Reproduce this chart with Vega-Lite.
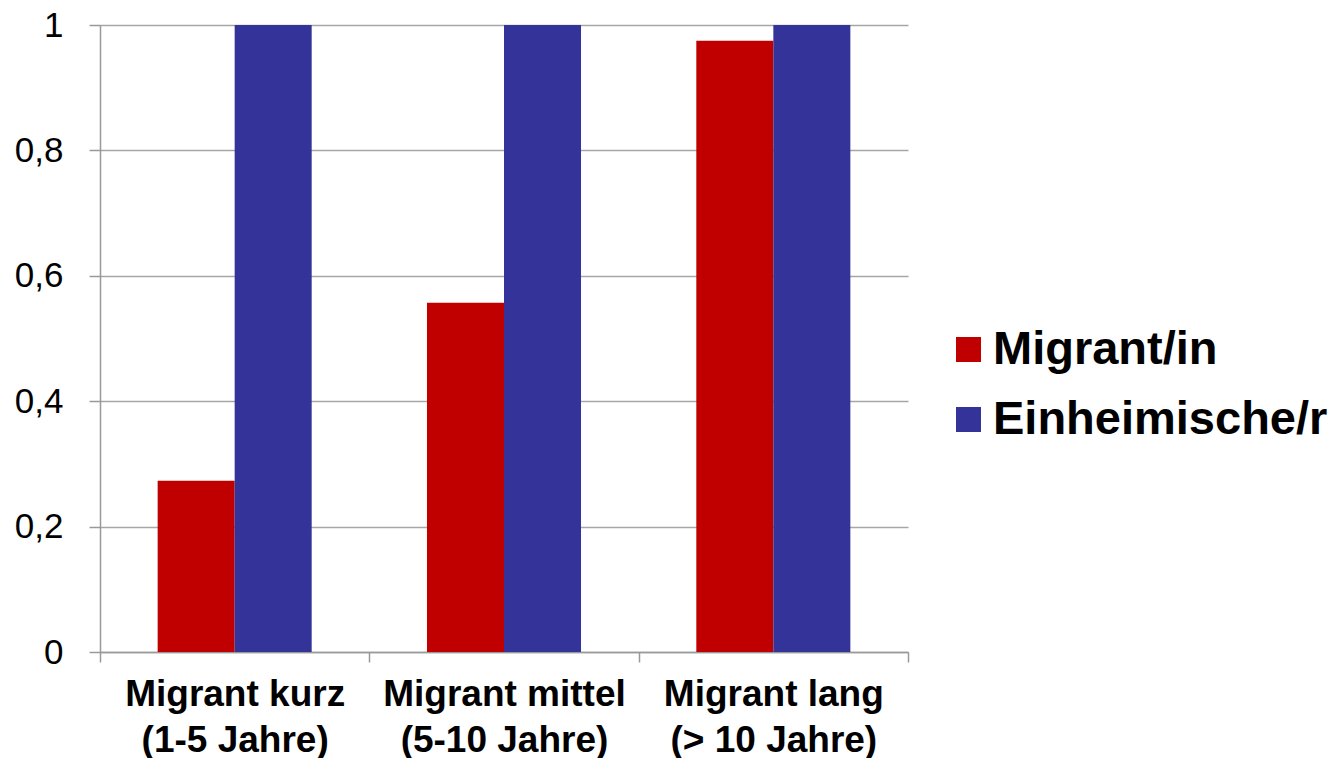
{
  "$schema": "https://vega.github.io/schema/vega-lite/v6.json",
  "width": 808,
  "height": 627,
  "autosize": "none",
  "padding": {"left": 100, "top": 25, "right": 428, "bottom": 106},
  "background": "white",
  "data": {
    "values": [
      {"gruppe": "Migrant kurz (1-5 Jahre)", "typ": "Migrant/in", "wert": 0.273},
      {"gruppe": "Migrant kurz (1-5 Jahre)", "typ": "Einheimische/r", "wert": 1},
      {"gruppe": "Migrant mittel (5-10 Jahre)", "typ": "Migrant/in", "wert": 0.557},
      {"gruppe": "Migrant mittel (5-10 Jahre)", "typ": "Einheimische/r", "wert": 1},
      {"gruppe": "Migrant lang (> 10 Jahre)", "typ": "Migrant/in", "wert": 0.975},
      {"gruppe": "Migrant lang (> 10 Jahre)", "typ": "Einheimische/r", "wert": 1}
    ]
  },
  "mark": {"type": "bar"},
  "encoding": {
    "x": {
      "field": "gruppe",
      "type": "nominal",
      "sort": ["Migrant kurz (1-5 Jahre)", "Migrant mittel (5-10 Jahre)", "Migrant lang (> 10 Jahre)"],
      "scale": {"paddingInner": 0, "paddingOuter": 0},
      "axis": {
        "title": null,
        "labelAngle": 0,
        "labelExpr": "[substring(datum.label, 0, indexof(datum.label, ' (')), substring(datum.label, indexof(datum.label, ' (') + 1)]",
        "labelFont": "Liberation Sans",
        "labelFontSize": 37,
        "labelFontWeight": "bold",
        "labelColor": "#000000",
        "labelLineHeight": 46,
        "labelPadding": 14,
        "labelBaseline": "top",
        "labelLimit": 600,
        "tickBand": "extent",
        "tickSize": 10,
        "tickColor": "#999999",
        "tickWidth": 1.5,
        "domainColor": "#999999",
        "domainWidth": 1.5,
        "grid": false
      }
    },
    "xOffset": {
      "field": "typ",
      "type": "nominal",
      "sort": ["Migrant/in", "Einheimische/r"],
      "scale": {"paddingInner": 0, "paddingOuter": 0.7486}
    },
    "y": {
      "field": "wert",
      "type": "quantitative",
      "scale": {"domain": [0, 1], "nice": false},
      "axis": {
        "title": null,
        "values": [0, 0.2, 0.4, 0.6, 0.8, 1],
        "labelExpr": "replace(format(datum.value, '~g'), '.', ',')",
        "labelFont": "Liberation Sans",
        "labelFontSize": 35,
        "labelColor": "#000000",
        "labelPadding": 26,
        "tickSize": 11,
        "tickColor": "#999999",
        "tickWidth": 1.5,
        "domainColor": "#999999",
        "domainWidth": 1.5,
        "grid": true,
        "gridColor": "#a6a6a6",
        "gridWidth": 1.5
      }
    },
    "color": {
      "field": "typ",
      "type": "nominal",
      "sort": ["Migrant/in", "Einheimische/r"],
      "scale": {"domain": ["Migrant/in", "Einheimische/r"], "range": ["#C00000", "#333399"]},
      "legend": {
        "title": null,
        "orient": "none",
        "legendX": 845,
        "legendY": 301,
        "padding": 0,
        "symbolType": "square",
        "symbolSize": 625,
        "symbolStrokeWidth": 0,
        "symbolOpacity": 1,
        "labelFont": "Liberation Sans",
        "labelFontSize": 47,
        "labelFontWeight": "bold",
        "labelColor": "#000000",
        "labelOffset": 1,
        "rowPadding": 22,
        "labelLimit": 500
      }
    }
  },
  "config": {"view": {"stroke": null}}
}
